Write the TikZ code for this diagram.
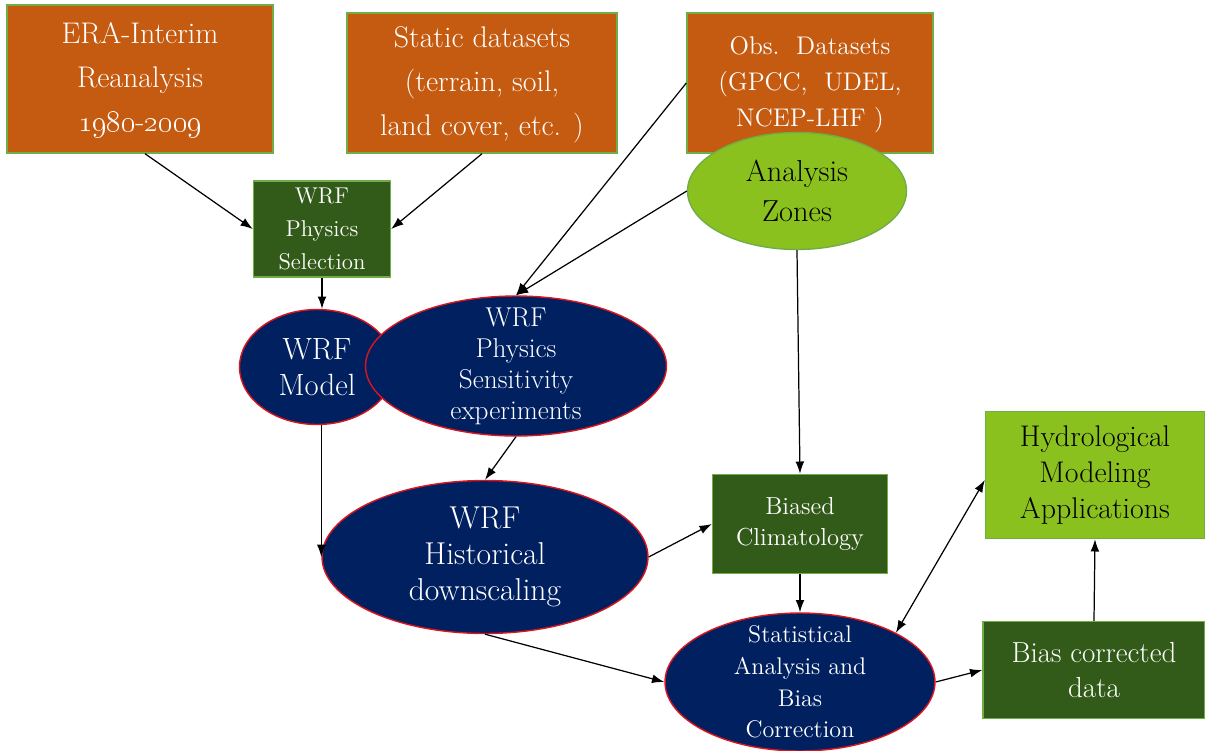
\documentclass[tikz,border=0pt]{standalone}
\usepackage{xcolor}
\usepackage{tikz}
\usetikzlibrary{positioning,shapes,arrows,arrows.meta}

\definecolor{boxorange}{RGB}{197,90,17}
\definecolor{edgegreen}{RGB}{112,173,71}
\definecolor{darkgreen}{RGB}{50,90,25}
\definecolor{lightgreen}{RGB}{139,193,31}
\definecolor{navy}{RGB}{0,32,96}
\definecolor{edgered}{RGB}{220,20,30}

\begin{document}
\begin{tikzpicture}[x=0.02cm, y=-0.02cm,
    every node/.style={align=center, inner sep=0pt},
    orangebox/.style={rectangle, draw=edgegreen, fill=boxorange, text=white, line width=0.8pt},
    darkbox/.style={rectangle, draw=edgegreen, fill=darkgreen, text=white, line width=0.8pt},
    lightbox/.style={rectangle, draw=edgegreen, fill=lightgreen, text=black, line width=0.8pt},
    navyell/.style={ellipse, draw=edgered, fill=navy, text=white, line width=0.8pt},
    greenell/.style={ellipse, draw=edgegreen, fill=lightgreen, text=black, line width=0.8pt},
    link/.style={-{Latex[length=7pt,width=5pt]}, line width=0.7pt}]
  \useasboundingbox (0,0) rectangle (1205,751);

  % input datasets
  \node[orangebox, minimum width=5.32cm, minimum height=2.96cm,
        font=\fontsize{17}{25}\selectfont] (era) at (140,79)
        {\raisebox{-3.5pt}{\begin{tabular}{@{}c@{}}ERA-Interim\\Reanalysis\\\oldstylenums{1980}-\oldstylenums{2009}\end{tabular}}};
  \node[orangebox, minimum width=5.4cm, minimum height=2.8cm,
        font=\fontsize{17}{25}\selectfont] (static) at (482,83)
        {\raisebox{-3.5pt}{\begin{tabular}{@{}c@{}}Static datasets\\(terrain, soil,\\land cover, etc. )\end{tabular}}};
  \node[orangebox, minimum width=4.92cm, minimum height=2.8cm,
        font=\fontsize{14.5}{20.5}\selectfont] (obs) at (810,83)
        {\raisebox{-2pt}{\begin{tabular}{@{}c@{}}Obs.~~Datasets\\(GPCC,~~UDEL,\\NCEP-LHF )\end{tabular}}};
  \node[greenell, minimum width=4.38cm, minimum height=2.34cm,
        font=\fontsize{17.3}{22.5}\selectfont] (zones) at (797,191)
        {Analysis\\Zones};

  % WRF setup
  \node[darkbox, minimum width=2.74cm, minimum height=1.92cm,
        font=\fontsize{13}{19}\selectfont] (physsel) at (322,229)
        {WRF\\Physics\\Selection};
  \node[navyell, minimum width=3.1cm, minimum height=2.3cm,
        font=\fontsize{17.5}{20.5}\selectfont] (wrfmodel) at (317,367)
        {WRF\\Model};
  \node[navyell, minimum width=6.02cm, minimum height=2.8cm, inner ysep=-12pt,
        font=\fontsize{15.5}{17.6}\selectfont] (sens) at (516,366)
        {WRF\\Physics\\Sensitivity\\experiments};
  \node[navyell, minimum width=6.52cm, minimum height=3.06cm, inner ysep=-4pt,
        font=\fontsize{18}{20.4}\selectfont] (hist) at (485,557)
        {WRF\\Historical\\downscaling};

  % post-processing
  \node[darkbox, minimum width=3.5cm, minimum height=1.98cm,
        font=\fontsize{14}{18}\selectfont] (biased) at (800,524)
        {Biased\\Climatology};
  \node[navyell, minimum width=5.4cm, minimum height=2.76cm, inner ysep=-12pt,
        font=\fontsize{13.7}{18}\selectfont] (stat) at (800,682)
        {Statistical\\Analysis and\\Bias\\Correction};
  \node[lightbox, minimum width=4.38cm, minimum height=2.54cm,
        font=\fontsize{17}{20.4}\selectfont] (hydro) at (1095,475)
        {Hydrological\\Modeling\\Applications};
  \node[darkbox, minimum width=4.44cm, minimum height=1.94cm,
        font=\fontsize{16.5}{20}\selectfont] (corrected) at (1094,670)
        {Bias corrected\\data};

  % connectors
  \draw[link] ([xshift=0.1cm]era.south) -- (physsel.west);
  \draw[link] (static.south) -- (physsel.east);
  \draw[link] (obs.west) -- (sens.north);
  \draw[link] (zones.west) -- (sens.north);
  \draw[link] (physsel.south) -- (wrfmodel.north -| physsel.south);
  \draw[link] (wrfmodel.south -| hist.west) -- (hist.west);
  \draw[link] (sens.south) -- (hist.north);
  \draw[link] (hist.east) -- (biased.west);
  \draw[link] (zones.south) -- (biased.north);
  \draw[link] (biased.south) -- (stat.north);
  \draw[link] (hist.south) -- (stat.west);
  \draw[{Latex[length=7pt,width=5pt]}-{Latex[length=7pt,width=5pt]}, line width=0.7pt]
       (stat.north east) -- ([yshift=-0.1cm]hydro.west);
  \draw[link] (stat.east) -- (corrected.west);
  \draw[link] (corrected.north) -- (hydro.south);
\end{tikzpicture}
\end{document}
